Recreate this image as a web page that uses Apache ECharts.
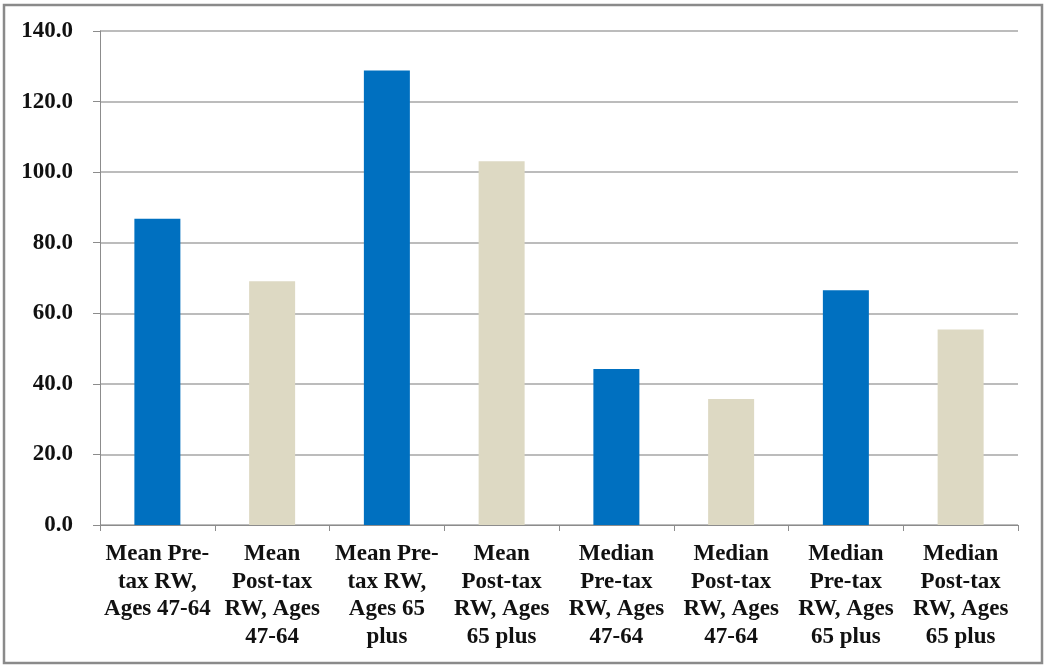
<!DOCTYPE html>
<html>
<head>
<meta charset="utf-8">
<script src="https://cdn.jsdelivr.net/npm/echarts@6/dist/echarts.min.js"></script>
<style>
  html, body { margin: 0; padding: 0; background: #fff; }
  #chart { width: 1045px; height: 666px; }
</style>
</head>
<body>
<div id="chart"></div>
<script>
// Replacement wage ratios by measure, tax treatment and age group
const categories = [
  'Mean Pre-\ntax RW,\nAges 47-64',
  'Mean\nPost-tax\nRW, Ages\n47-64',
  'Mean Pre-\ntax RW,\nAges 65\nplus',
  'Mean\nPost-tax\nRW, Ages\n65 plus',
  'Median\nPre-tax\nRW, Ages\n47-64',
  'Median\nPost-tax\nRW, Ages\n47-64',
  'Median\nPre-tax\nRW, Ages\n65 plus',
  'Median\nPost-tax\nRW, Ages\n65 plus'
];
const values = [86.8, 69.1, 128.8, 103.1, 44.2, 35.7, 66.5, 55.4];
const yTicks = { min: 0, max: 140, step: 20 };

const PRE_TAX = '#0070C0';
const POST_TAX = '#DDD9C3';
const FONT = '"Liberation Serif", "Times New Roman", serif';

const chart = echarts.init(document.getElementById('chart'), null, { renderer: 'canvas' });
chart.setOption({
  animation: false,
  backgroundColor: '#ffffff',
  graphic: [{
    type: 'rect',
    shape: { x: 4, y: 5, width: 1038, height: 658 },
    style: { fill: 'none', stroke: '#8a8a8a', lineWidth: 2.5 },
    silent: true
  }],
  grid: { left: 100, right: 27, top: 31, bottom: 141, containLabel: false },
  xAxis: {
    type: 'category',
    data: categories,
    axisLine: { show: true, lineStyle: { color: '#8c8c8c', width: 1 } },
    axisTick: { show: true, length: 6, lineStyle: { color: '#8c8c8c' } },
    axisLabel: {
      interval: 0,
      margin: 15,
      color: '#111',
      fontFamily: FONT,
      fontWeight: 'bold',
      fontSize: 23,
      lineHeight: 27.8,
      align: 'center'
    },
    splitLine: { show: false }
  },
  yAxis: {
    type: 'value',
    min: yTicks.min,
    max: yTicks.max,
    interval: yTicks.step,
    axisLine: { show: true, lineStyle: { color: '#8c8c8c', width: 1 } },
    axisTick: { show: true, length: 7, lineStyle: { color: '#8c8c8c' } },
    axisLabel: {
      margin: 27,
      color: '#111',
      fontFamily: FONT,
      fontWeight: 'bold',
      fontSize: 23,
      formatter: v => v.toFixed(1)
    },
    splitLine: { show: true, lineStyle: { color: '#a6a6a6', width: 1.5 } }
  },
  series: [{
    type: 'bar',
    data: values,
    barWidth: 46,
    itemStyle: {
      color: p => (p.dataIndex % 2 === 0 ? PRE_TAX : POST_TAX)
    }
  }]
});
</script>
</body>
</html>
